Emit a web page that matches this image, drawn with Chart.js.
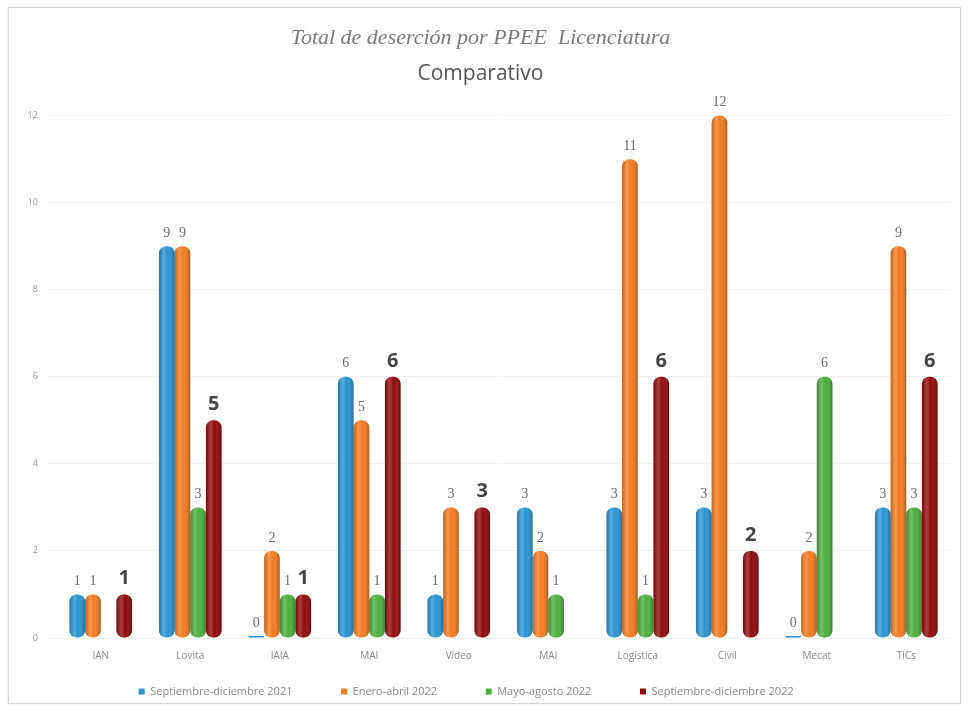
<!DOCTYPE html>
<html><head><meta charset="utf-8">
<script src="https://cdn.jsdelivr.net/npm/chart.js@4.4.1/dist/chart.umd.min.js"></script>
<style>
html,body{margin:0;padding:0;background:#fff;}
#wrap{position:relative;width:969px;height:711px;}
#frame{position:absolute;left:8px;top:7px;width:951px;height:695px;border:1px solid #d4d4d4;box-shadow:0 0 3px rgba(0,0,0,0.12);pointer-events:none;}
canvas{position:absolute;left:0;top:0;}
</style></head>
<body><div id="wrap"><canvas id="c" width="969" height="711"></canvas><div id="frame"></div></div>
<script>
const categories = ["IAN","Lovita","IAIA","MAI","Video","MAI","Logística","Civil","Mecat","TICs"];
const seriesNames = ["Septiembre-diciembre 2021","Enero-abril 2022","Mayo-agosto 2022","Septiembre-diciembre 2022"];
const sepDic2021 = [1,9,0,6,1,3,3,3,0,3];
const eneAbr2022 = [1,9,2,5,3,2,11,12,2,9];
const mayAgo2022 = [null,3,1,1,null,1,1,null,6,3];
const sepDic2022 = [1,5,1,6,3,null,6,2,null,6];
const yTicks = [0,2,4,6,8,10,12];
const colors = ["#2b95d3","#f47b20","#4caf3e","#920b0b"];

const shade = {
  id:'shade',
  afterDatasetsDraw(chart){
    const ctx = chart.ctx;
    chart.data.datasets.forEach((ds,i)=>{
      chart.getDatasetMeta(i).data.forEach((bar,j)=>{
        if(ds.data[j]===null) return;
        const w = bar.width, x0 = bar.x - w/2, top = Math.min(bar.y,bar.base), h = Math.abs(bar.base-bar.y);
        if(h<3) return;
        const g = ctx.createLinearGradient(x0,0,x0+w,0);
        g.addColorStop(0,'rgba(0,0,0,0.18)');
        g.addColorStop(0.3,'rgba(255,255,255,0.22)');
        g.addColorStop(0.55,'rgba(255,255,255,0)');
        g.addColorStop(1,'rgba(0,0,0,0.28)');
        ctx.save();
        ctx.beginPath();
        ctx.roundRect(x0,top,w,h,Math.min(7,h/2));
        ctx.fillStyle = g; ctx.fill();
        ctx.restore();
      });
    });
  },
  afterDraw(chart){
    const ctx = chart.ctx;
    ctx.save();
    ctx.textAlign='center'; ctx.textBaseline='bottom';
    chart.data.datasets.forEach((ds,i)=>{
      chart.getDatasetMeta(i).data.forEach((bar,j)=>{
        const v = ds.data[j];
        if(v===null) return;
        if(i===3){ ctx.font='bold 20px "Open Sans", sans-serif'; ctx.fillStyle='#444'; }
        else { ctx.font='14px "Liberation Serif", serif'; ctx.fillStyle='#6a6a6a'; }
        ctx.fillText(String(v), bar.x, Math.min(bar.y,bar.base) - 6);
      });
    });
    ctx.restore();
  }
};

new Chart(document.getElementById('c'),{
  type:'bar',
  data:{
    labels:categories,
    datasets:[sepDic2021,eneAbr2022,mayAgo2022,sepDic2022].map((d,i)=>({
      label:seriesNames[i], data:d, backgroundColor:colors[i],
      borderRadius:7, borderSkipped:false, minBarLength:2,
      categoryPercentage:0.70, barPercentage:1.0
    }))
  },
  options:{
    responsive:false, animation:false,
    layout:{padding:{left:10,right:18,top:19,bottom:4}},
    plugins:{
      title:{display:true,text:'Total de deserción por PPEE  Licenciatura',color:'#7a7a7a',
        font:{family:'"Liberation Serif", serif',style:'italic',size:22,weight:'normal'},padding:{top:6,bottom:10}},
      subtitle:{display:true,text:'Comparativo',color:'#555',
        font:{family:'"Open Sans", sans-serif',size:21},padding:{bottom:29}},
      legend:{position:'bottom',labels:{boxWidth:6,boxHeight:6,color:'#888',font:{size:11,family:'"Open Sans", sans-serif'},padding:20,
        generateLabels(chart){
          const items = Chart.defaults.plugins.legend.labels.generateLabels(chart);
          items.forEach(it=>{ it.text = it.text + '          '; });
          return items;
        }}},
      tooltip:{enabled:false}
    },
    scales:{
      x:{grid:{display:false},border:{display:false},
        ticks:{color:'#888',font:{size:10,family:'"Open Sans", sans-serif'},padding:4}},
      y:{min:0,max:12,border:{display:false},
        afterBuildTicks(s){s.ticks=yTicks.map(v=>({value:v}));},
        afterFit(s){s.width=46;},
        grid:{color:'rgba(0,0,0,0.06)'},
        ticks:{color:'#999',font:{size:9,family:'"Open Sans", sans-serif'},padding:10}}
    }
  },
  plugins:[shade]
});
</script></body></html>
